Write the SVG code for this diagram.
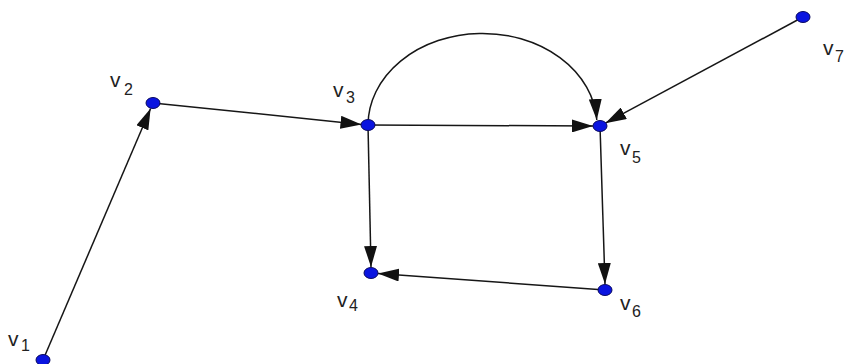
<svg xmlns="http://www.w3.org/2000/svg" width="848" height="364" viewBox="0 0 848 364">
<defs>
<marker id="arr" markerUnits="userSpaceOnUse" markerWidth="23" markerHeight="13" refX="21" refY="6.5" orient="auto">
<path d="M0,0 L21,6.5 L0,13 Z" fill="#111"/>
</marker>
<style>
.e{fill:none;stroke:#161616;stroke-width:1.5;marker-end:url(#arr)}
.n{fill:#0a14e0;stroke:#0a0a60;stroke-width:1}
.l{font-family:"Liberation Sans",Arial,sans-serif;fill:#222;font-size:21px}
.s{font-size:16px}
</style>
</defs>
<rect width="848" height="364" fill="#fff"/>
<g id="connectors">
<line class="e" x1="43" y1="360" x2="150.6" y2="108.5"/>
<line class="e" x1="153" y1="103" x2="361.5" y2="124.4"/>
<line class="e" x1="368" y1="125" x2="593" y2="126"/>
<path class="e" d="M368,125 A114.5,92 0 0 1 596.8,120"/>
<line class="e" x1="803" y1="17" x2="605.3" y2="123.2"/>
<line class="e" x1="368" y1="125" x2="371" y2="267"/>
<line class="e" x1="600" y1="126" x2="605" y2="284"/>
<line class="e" x1="605" y1="290" x2="378" y2="273.5"/>
</g>
<g id="v1"><ellipse class="n" cx="43" cy="360" rx="7" ry="5.5"/><text class="l"><tspan x="8" y="346">v</tspan><tspan class="s" x="21" y="351">1</tspan></text></g>
<g id="v2"><ellipse class="n" cx="153" cy="103" rx="7" ry="5.5"/><text class="l"><tspan x="110" y="87">v</tspan><tspan class="s" x="124" y="95">2</tspan></text></g>
<g id="v3"><ellipse class="n" cx="368" cy="125" rx="7" ry="5.5"/><text class="l"><tspan x="333" y="97">v</tspan><tspan class="s" x="346" y="103">3</tspan></text></g>
<g id="v4"><ellipse class="n" cx="371" cy="273" rx="7" ry="5.5"/><text class="l"><tspan x="337" y="307">v</tspan><tspan class="s" x="349" y="311">4</tspan></text></g>
<g id="v5"><ellipse class="n" cx="600" cy="126" rx="7" ry="5.5"/><text class="l"><tspan x="620" y="155">v</tspan><tspan class="s" x="632" y="163">5</tspan></text></g>
<g id="v6"><ellipse class="n" cx="605" cy="290" rx="7" ry="5.5"/><text class="l"><tspan x="620" y="310">v</tspan><tspan class="s" x="632" y="317">6</tspan></text></g>
<g id="v7"><ellipse class="n" cx="803" cy="17" rx="7" ry="5.5"/><text class="l"><tspan x="823" y="55">v</tspan><tspan class="s" x="835" y="62">7</tspan></text></g>
</svg>
